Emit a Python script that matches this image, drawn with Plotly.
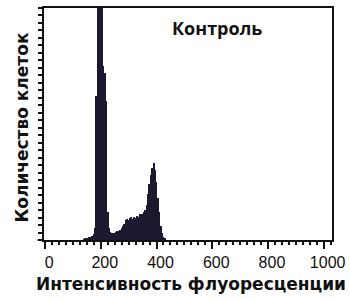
import plotly.graph_objects as go

# bin centers (fluorescence intensity) and cell counts
bins = [140, 145, 150, 155, 160, 165, 170, 175, 180, 185, 190, 195, 200, 205, 210, 215, 220,
        225, 230, 235, 240, 245, 250, 255, 260, 265, 270, 275, 280, 285, 290, 295, 300,
        305, 310, 315, 320, 325, 330, 335, 340, 345, 350, 355, 360, 365, 370, 375, 380,
        385, 390, 395, 400, 405, 410, 415, 420, 425, 430]
counts = [0.3, 0.5, 0.8, 1.0, 1.2, 1.5, 1.8, 2.5, 5, 62, 110, 120, 115, 105, 75, 72, 60,
          12, 5, 3.5, 3, 3, 3.2, 3.5, 3.8, 4, 4.5, 5, 6, 7, 8.5, 9, 8.5,
          9.5, 10, 9, 10, 9.5, 10.5, 10, 11, 10.5, 11, 12, 13, 15, 20, 24, 28,
          31, 33, 30, 25, 18, 12, 6, 3, 1.5, 0.5]
x_ticks = [0, 200, 400, 600, 800, 1000]
x_labels = ["0", "200", "400", "600", "800", "1000"]
title_text = "Контроль"
x_title = "Интенсивность флуоресценции"
y_title = "Количество клеток"

fig = go.Figure(go.Bar(x=bins, y=counts, width=5, marker=dict(color="#1b1830", line=dict(width=0))))

fig.update_layout(
    width=350, height=299,
    margin=dict(l=44, r=18, t=8, b=59, autoexpand=False),
    paper_bgcolor="white", plot_bgcolor="white",
    showlegend=False, bargap=0,
    font=dict(family="Liberation Sans", color="#111"),
    annotations=[
        dict(text="<b>" + title_text + "</b>", x=0.601, y=0.914, xref="paper", yref="paper",
             xanchor="center", yanchor="middle", showarrow=False,
             font=dict(family="Open Sans", size=18, color="#111")),
        dict(text="<b>" + x_title + "</b>", x=0.512, y=-0.19, xref="paper", yref="paper",
             xanchor="center", yanchor="middle", showarrow=False,
             font=dict(family="DejaVu Sans", size=17, color="#111")),
        dict(text="<b>" + y_title + "</b>", x=-0.076, y=0.485, xref="paper", yref="paper",
             xanchor="center", yanchor="middle", showarrow=False, textangle=-90,
             font=dict(family="DejaVu Sans", size=17, color="#111")),
    ],
    shapes=[dict(type="line", xref="paper", yref="paper", x0=-0.022, x1=0, y0=0, y1=0,
                 line=dict(color="#111", width=2))],
)
fig.update_xaxes(
    range=[-4, 1030], tickvals=x_ticks, ticktext=x_labels,
    showline=True, linewidth=2, linecolor="#111", mirror=True,
    ticks="outside", ticklen=7, tickwidth=2, tickcolor="#111",
    ticklabelshift=4,
    minor=dict(dtick=25, ticks="outside", ticklen=3, tickwidth=1.5, tickcolor="#111"),
    tickfont=dict(size=16, family="Liberation Sans", color="#111"),
    showgrid=False, zeroline=False, automargin=False,
)
fig.update_yaxes(
    range=[0, 100], dtick=100 / 31, showticklabels=False,
    showline=True, linewidth=2, linecolor="#111", mirror=True,
    ticks="outside", ticklen=4, tickwidth=1.5, tickcolor="#111",
    showgrid=False, zeroline=False, automargin=False,
)

fig.write_html("out.html", config={"displayModeBar": False},
               post_script="document.body.style.margin='0';document.body.style.overflow='hidden';")
